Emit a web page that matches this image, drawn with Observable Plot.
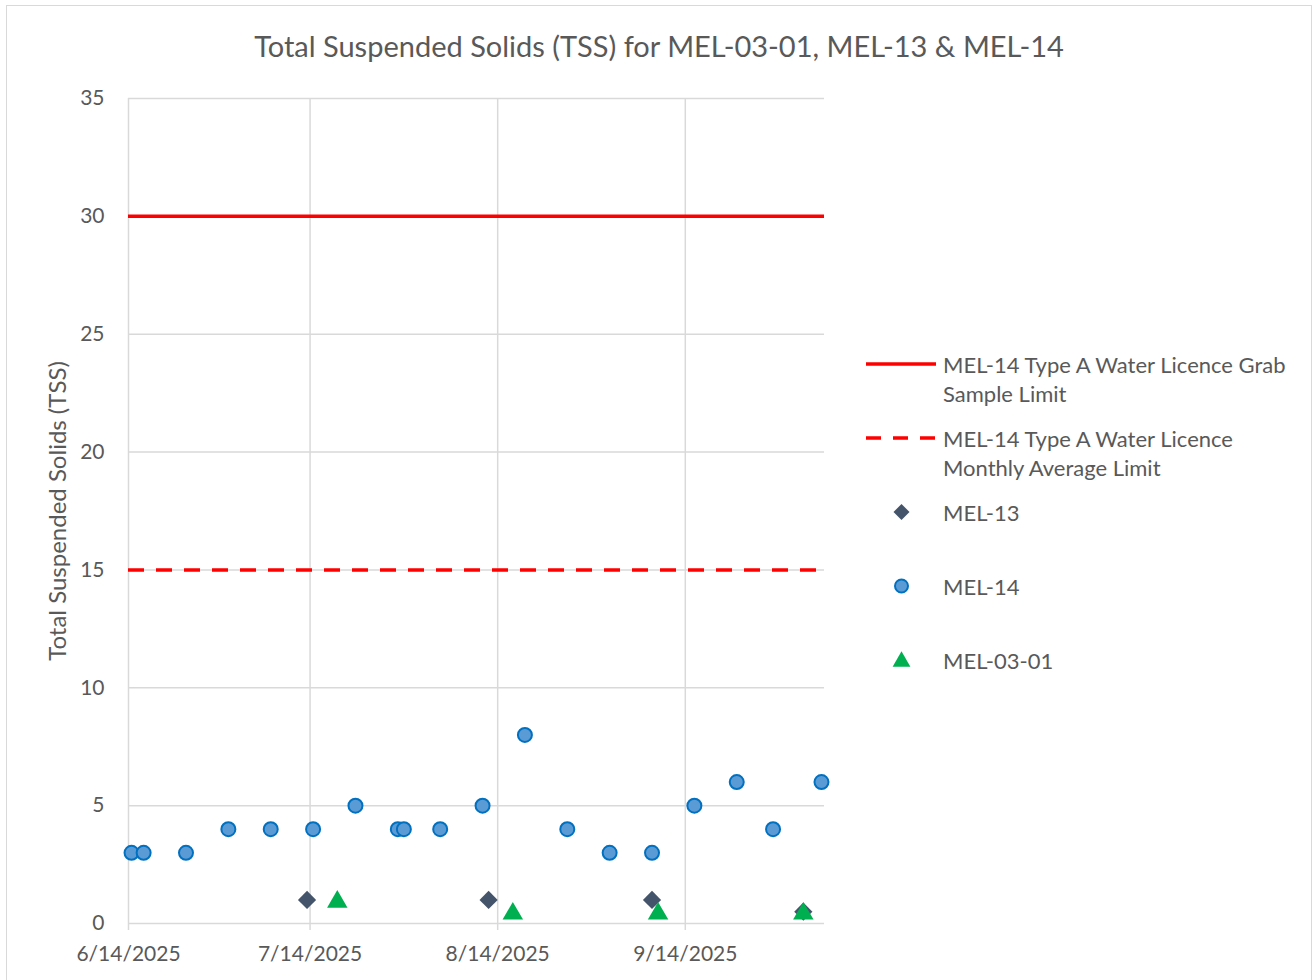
<!DOCTYPE html>
<html>
<head>
<meta charset="utf-8">
<script src="https://cdn.jsdelivr.net/npm/d3@7"></script>
<script src="https://cdn.jsdelivr.net/npm/@observablehq/plot@0.6"></script>
<style>
  html, body { margin: 0; padding: 0; background: #fff; }
  body { font-family: Lato, "Open Sans", sans-serif; color: #595959; }
  #chart { position: relative; width: 1315px; height: 980px; overflow: hidden; }
  #frame { position: absolute; left: 6px; top: 5px; width: 1306px; height: 1000px; border: 1.5px solid #d9d9d9; box-sizing: border-box; }
  #title { position: absolute; left: 0; top: 28px; width: 1318px; text-align: center; font-size: 29px; line-height: 35px; color: #595959; margin: 0; font-weight: normal; }
  #plot { position: absolute; left: 0; top: 0; }
  #legend { position: absolute; left: 0; top: 0; width: 1315px; height: 980px; pointer-events: none; }
  .lg-sym { position: absolute; }
  .lg-text { position: absolute; left: 943px; font-size: 22px; line-height: 29px; white-space: nowrap; color: #595959; }
</style>
</head>
<body>
<div id="chart">
  <div id="frame"></div>
  <h1 id="title"></h1>
  <div id="plot"></div>
  <div id="legend"></div>
</div>
<script>
// ---- Data ----
const chartTitle = "Total Suspended Solids (TSS) for MEL-03-01, MEL-13 & MEL-14";
const yLabel = "Total Suspended Solids (TSS)";

const mel14Dates = ["2025-06-14","2025-06-16","2025-06-23","2025-06-30","2025-07-07","2025-07-14","2025-07-21","2025-07-28","2025-07-29","2025-08-04","2025-08-11","2025-08-18","2025-08-25","2025-09-01","2025-09-08","2025-09-15","2025-09-22","2025-09-28","2025-10-06"];
const mel14Values = [3,3,3,4,4,4,5,4,4,4,5,8,4,3,3,5,6,4,6];

const mel13Dates = ["2025-07-13","2025-08-12","2025-09-08","2025-10-03"];
const mel13Values = [1,1,1,0.5];

const mel0301Dates = ["2025-07-18","2025-08-16","2025-09-09","2025-10-03"];
const mel0301Values = [1,0.5,0.5,0.5];

const limitNames = ["MEL-14 Type A Water Licence Grab\nSample Limit", "MEL-14 Type A Water Licence\nMonthly Average Limit"];
const limitValues = [30, 15];

const seriesNames = ["MEL-13", "MEL-14", "MEL-03-01"];

const xTickDates = ["2025-06-14","2025-07-14","2025-08-14","2025-09-14"];
const xDomainDates = ["2025-06-14","2025-10-07"];
const yTicks = [0,5,10,15,20,25,30,35];

// ---- Build ----
const parse = d3.utcParse("%Y-%m-%d");
const rows = (dates, values) => dates.map((d, i) => ({date: parse(d), value: values[i]}));
const mel14 = rows(mel14Dates, mel14Values);
const mel13 = rows(mel13Dates, mel13Values);
const mel0301 = rows(mel0301Dates, mel0301Values);
const xTicks = xTickDates.map(parse);
// Excel date axis places points at the middle of their day slot
const midDay = d => d3.utcHour.offset(d.date, 12);

document.getElementById("title").textContent = chartTitle;

const font = "Lato, 'Open Sans', sans-serif";
const plot = Plot.plot({
  width: 1315,
  height: 980,
  marginLeft: 128,
  marginRight: 491,
  marginTop: 98,
  marginBottom: 57,
  style: {fontFamily: font, color: "#595959", background: "transparent", overflow: "visible"},
  x: {type: "utc", domain: xDomainDates.map(parse)},
  y: {domain: [0, 35]},
  marks: [
    Plot.gridX(xTicks, {stroke: "#d9d9d9", strokeOpacity: 1, strokeWidth: 1.5}),
    Plot.gridY(yTicks, {stroke: "#d9d9d9", strokeOpacity: 1, strokeWidth: 1.5}),
    Plot.axisX(xTicks, {tickFormat: d3.utcFormat("%-m/%-d/%Y"), tickSize: 7, tickPadding: 16, stroke: "#d9d9d9", strokeWidth: 1.5, fill: "#595959", fontSize: 21, label: null}),
    Plot.axisY(yTicks, {tickSize: 0, tickPadding: 24, fill: "#595959", fontSize: 21, label: null}),
    Plot.text([yLabel], {frameAnchor: "left", textAnchor: "middle", rotate: -90, dx: -70, fontSize: 24, fill: "#595959"}),
    Plot.ruleY([limitValues[0]], {stroke: "#ff0000", strokeWidth: 3.5}),
    Plot.ruleY([limitValues[1]], {stroke: "#ff0000", strokeWidth: 3.5, strokeDasharray: "16,12"}),
    Plot.dot(mel13, {x: midDay, y: "value", symbol: "diamond2", r: 8.2, fill: "#44546A", stroke: "none"}),
    Plot.dot(mel14, {x: midDay, y: "value", symbol: "circle", r: 7, fill: "#5B9BD5", stroke: "#0070C0", strokeWidth: 2}),
    Plot.dot(mel0301, {x: midDay, y: "value", symbol: "triangle", r: 7.6, fill: "#00B050", stroke: "none", dy: 2})
  ]
});
document.getElementById("plot").appendChild(plot);

// ---- Legend ----
const legend = document.getElementById("legend");
const svgNS = "http://www.w3.org/2000/svg";
function symSvg(cy, draw) {
  const s = document.createElementNS(svgNS, "svg");
  s.setAttribute("width", 90); s.setAttribute("height", 30);
  s.setAttribute("class", "lg-sym");
  s.style.left = "856px"; s.style.top = (cy - 15) + "px";
  draw(s);
  legend.appendChild(s);
}
function el(parent, tag, attrs) {
  const e = document.createElementNS(svgNS, tag);
  for (const k in attrs) e.setAttribute(k, attrs[k]);
  parent.appendChild(e);
}
function text(cy, str) {
  str.split("\n").forEach((line, i) => {
    const d = document.createElement("div");
    d.className = "lg-text";
    d.style.top = (cy - 14.5 + i * 29) + "px";
    d.textContent = line;
    legend.appendChild(d);
  });
}
const symPath = (type, r) => d3.symbol(type, Math.PI * r * r)();
// solid limit
symSvg(364, s => el(s, "line", {x1: 10, x2: 80, y1: 15, y2: 15, stroke: "#ff0000", "stroke-width": 3.5}));
text(364, limitNames[0]);
// dashed limit
symSvg(438, s => el(s, "line", {x1: 10, x2: 80, y1: 15, y2: 15, stroke: "#ff0000", "stroke-width": 3.5, "stroke-dasharray": "15,12"}));
text(438, limitNames[1]);
// MEL-13
symSvg(512, s => el(s, "path", {d: symPath(d3.symbolDiamond2, 7.2), transform: "translate(45.5,15)", fill: "#44546A"}));
text(512, seriesNames[0]);
// MEL-14
symSvg(586, s => el(s, "circle", {cx: 45.5, cy: 15, r: 6.5, fill: "#5B9BD5", stroke: "#0070C0", "stroke-width": 2}));
text(586, seriesNames[1]);
// MEL-03-01
symSvg(660, s => el(s, "path", {d: symPath(d3.symbolTriangle, 6.6), transform: "translate(45.5,16.5)", fill: "#00B050"}));
text(660, seriesNames[2]);
</script>
</body>
</html>
